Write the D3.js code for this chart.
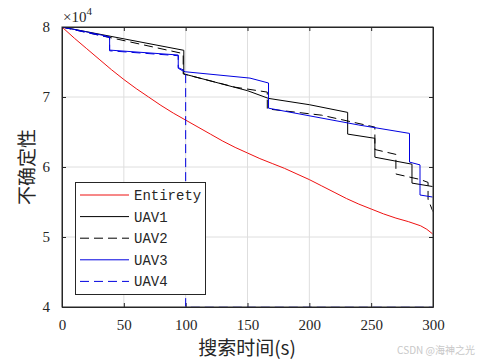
<!DOCTYPE html>
<html><head><meta charset="utf-8">
<script src="https://cdn.jsdelivr.net/npm/d3@7"></script>
<style>body{margin:0;background:#fff}svg{display:block}
.serif{font-family:"Liberation Serif","DejaVu Serif","Times New Roman",serif}</style>
</head><body><svg id="c" width="480" height="360"></svg>
<script>
// values in units of 10^4
const xTicks = [0, 50, 100, 150, 200, 250, 300];
const yTicks = [4, 5, 6, 7, 8];
const seriesNames = ["Entirety", "UAV1", "UAV2", "UAV3", "UAV4"];

const entiretyT = [0,10,20,30,40,50,60,70,80,90,100,110,120,130,140,150,160,170,180,190,200,210,220,230,240,250,260,270,280,290,295,300];
const entiretyV = [8.0,7.84,7.69,7.54,7.39,7.25,7.12,7.0,6.88,6.77,6.67,6.57,6.47,6.37,6.28,6.2,6.12,6.05,5.98,5.9,5.82,5.73,5.64,5.55,5.47,5.4,5.33,5.27,5.22,5.16,5.11,5.04];

const uav1T = [0,98.5,98.5,150,167,200,231,231,253,253,283,283,300];
const uav1V = [8.0,7.667,7.33,7.09,6.98,6.89,6.78,6.47,6.41,6.14,6.04,5.77,5.72];

const uav2T = [0,98,98,140,166,166,210,253,253,270,270,290,296,296,300];
const uav2V = [8.0,7.62,7.33,7.14,7.07,6.83,6.74,6.57,6.25,6.18,5.9,5.82,5.78,5.54,5.36];

const uav3T = [0,20,38.5,38.5,94,94,98,100,152,167,167,240,281,281,289.5,289.5,300];
const uav3V = [8.0,7.93,7.86,7.67,7.6,7.41,7.37,7.36,7.27,7.2,6.84,6.6,6.48,6.07,6.03,5.6,5.57];

const uav4T = [0,20,38.5,38.5,94,94,100,100,300];
const uav4V = [8.0,7.92,7.85,7.66,7.59,7.42,7.37,4.0,4.0];

const svg = d3.select("#c");
const L = 62, R = 433, T = 27, B = 307;
const x = d3.scaleLinear().domain([0, 300]).range([L, R]);
const y = d3.scaleLinear().domain([4, 8]).range([B, T]);
const axisCol = "#262626";

svg.append("defs").append("clipPath").attr("id", "clip").append("rect")
  .attr("x", L + 0.5).attr("y", T + 0.5).attr("width", R - L - 1).attr("height", B - T - 1);

// grid
svg.append("g").selectAll("line").data(xTicks.slice(1, -1)).join("line")
  .attr("x1", d => x(d)).attr("x2", d => x(d)).attr("y1", T).attr("y2", B)
  .attr("stroke", "#dedede").attr("stroke-width", 1);
svg.append("g").selectAll("line").data(yTicks.slice(1, -1)).join("line")
  .attr("y1", d => y(d)).attr("y2", d => y(d)).attr("x1", L).attr("x2", R)
  .attr("stroke", "#dedede").attr("stroke-width", 1);

// axes
const ax = (gen, tr) => svg.append("g").attr("transform", tr).call(gen)
  .attr("font-family", null).attr("font-size", null).attr("class", "serif")
  .call(g => { g.select(".domain").attr("stroke", axisCol); g.selectAll(".tick line").attr("stroke", axisCol);
    g.selectAll("text").attr("class", "serif").style("font-size", "15px").attr("fill", "#262626"); });
ax(d3.axisBottom(x).tickValues(xTicks).tickSize(-4).tickPadding(12).tickSizeOuter(0), `translate(0,${B})`);
ax(d3.axisLeft(y).tickValues(yTicks).tickFormat(d3.format("d")).tickSize(-4).tickPadding(12).tickSizeOuter(0), `translate(${L},0)`);
ax(d3.axisTop(x).tickValues(xTicks).tickSize(-4).tickFormat("").tickSizeOuter(0), `translate(0,${T})`);
ax(d3.axisRight(y).tickValues(yTicks).tickSize(-4).tickFormat("").tickSizeOuter(0), `translate(${R},0)`);

// exponent
const ex = svg.append("text").attr("class", "serif").attr("x", L + 1).attr("y", 22).style("font-size", "15px").attr("fill", "#262626");
ex.append("tspan").text("×10");
ex.append("tspan").attr("dy", -7).style("font-size", "11px").text("4");

// labels
svg.append("text").attr("transform", "translate(34,167) rotate(-90)").attr("text-anchor", "middle")
  .style("font-family", "'Noto Sans CJK SC'").style("font-size", "19px").attr("fill", "#262626").text("不确定性");
svg.append("text").attr("x", 247).attr("y", 355).attr("text-anchor", "middle")
  .style("font-family", "'Noto Sans CJK SC'").style("font-size", "19px").attr("fill", "#262626").text("搜索时间(s)");

// series
const line = d3.line().x(d => x(d[0])).y(d => y(d[1]));
const zipS = (t, v) => t.map((d, i) => [d, v[i]]);
const series = [
  { name: seriesNames[0], data: zipS(entiretyT, entiretyV), color: "#ee1111", dash: null },
  { name: seriesNames[1], data: zipS(uav1T, uav1V), color: "#000000", dash: null },
  { name: seriesNames[2], data: zipS(uav2T, uav2V), color: "#000000", dash: "9,5" },
  { name: seriesNames[3], data: zipS(uav3T, uav3V), color: "#0000e0", dash: null },
  { name: seriesNames[4], data: zipS(uav4T, uav4V), color: "#0000e0", dash: "9,5" }
];
const plot = svg.append("g").attr("clip-path", "url(#clip)");
series.forEach(s => {
  plot.append("path").attr("d", line(s.data)).attr("fill", "none").attr("stroke", s.color)
    .attr("stroke-width", 1).attr("stroke-dasharray", s.dash);
});

// box
svg.append("rect").attr("x", L).attr("y", T).attr("width", R - L).attr("height", B - T)
  .attr("fill", "none").attr("stroke", axisCol).attr("stroke-width", 1);

// legend
const lg = svg.append("g");
lg.append("rect").attr("x", 75.5).attr("y", 182.5).attr("width", 130).attr("height", 112)
  .attr("fill", "#fff").attr("stroke", axisCol).attr("stroke-width", 1);
series.forEach((s, i) => {
  const yy = 195 + i * 21.6;
  lg.append("line").attr("x1", 80).attr("x2", 129).attr("y1", yy).attr("y2", yy)
    .attr("stroke", s.color).attr("stroke-width", 1).attr("stroke-dasharray", s.dash);
  lg.append("text").attr("x", 134).attr("y", yy + 5).style("font-family", "'Liberation Mono',monospace")
    .style("font-size", "14px").attr("fill", "#262626").text(s.name);
});

// watermark
svg.append("text").attr("x", 475).attr("y", 354).attr("text-anchor", "end")
  .style("font-family", "'Noto Sans CJK SC'").style("font-size", "10px").attr("fill", "#c8c8c8").text("CSDN @海神之光");
</script></body></html>
